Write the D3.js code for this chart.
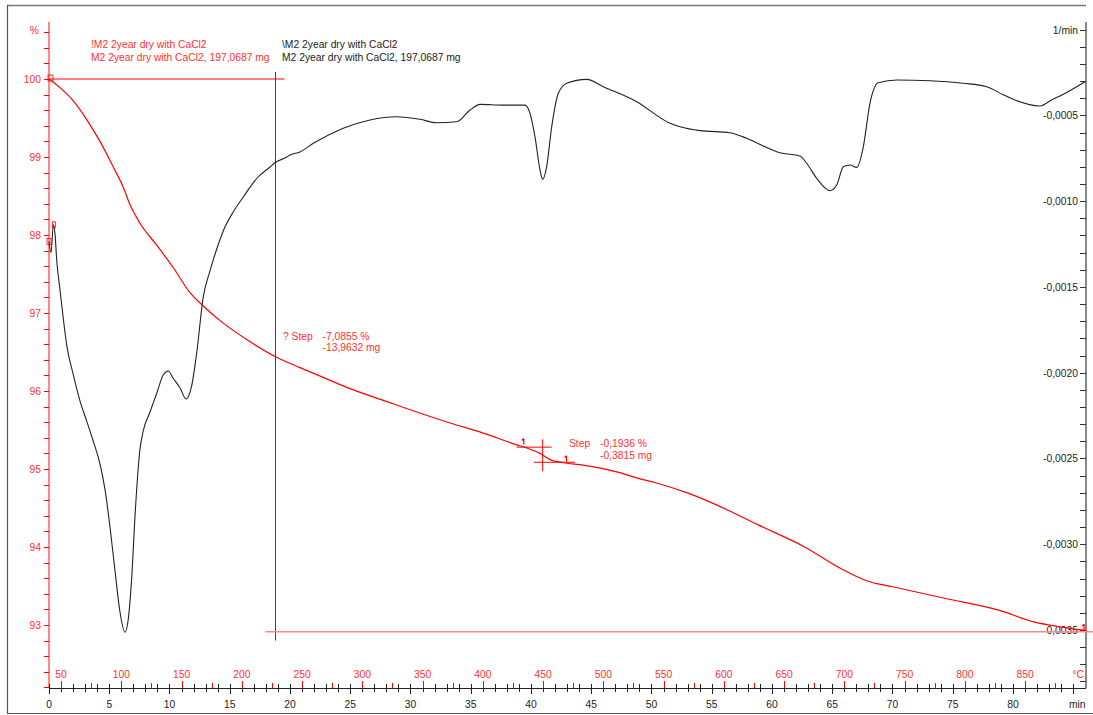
<!DOCTYPE html>
<html><head><meta charset="utf-8">
<script src="https://cdn.jsdelivr.net/npm/d3@7"></script>
<style>
html,body{margin:0;padding:0;background:#fff;}
svg{display:block;font-family:"Liberation Sans",Arial,sans-serif;}
</style></head>
<body><svg id="c" width="1093" height="715"></svg>
<script>
// ---- data ----
// TG curve: time (min) and mass (%)
const tgTime = [0,0.91,2.02,3.13,4.23,5.34,6.17,6.72,7.55,8.94,10.32,11.70,12.80,14.46,16.41,18.80,20.83,22.22,24.98,27.74,30.51,33.28,36.04,38.81,39.64,40.75,41.58,42.68,44.34,47.2,48.90,50.41,53.03,55.39,58.90,62.71,65.63,67.97,70.02,74.41,78.81,81.73,83.78,85.98];
const tgMass = [100.0,99.89,99.72,99.48,99.20,98.87,98.61,98.39,98.15,97.87,97.58,97.26,97.09,96.87,96.66,96.44,96.30,96.21,96.03,95.88,95.73,95.59,95.46,95.31,95.27,95.20,95.12,95.08,95.05,94.96,94.88,94.82,94.69,94.54,94.28,94.00,93.73,93.56,93.49,93.34,93.19,93.04,92.98,92.93];
// DTG curve: time (min) and rate (1/min)
const dtgTime = [0,0.17,0.36,0.50,0.64,0.91,1.19,1.47,2.02,2.57,3.13,3.68,4.23,4.65,5.06,5.48,5.89,6.31,6.58,6.86,7.14,7.55,7.83,8.38,8.94,9.49,9.90,10.32,10.87,11.37,11.84,12.26,12.80,13.36,13.92,14.61,15.29,16.12,17.24,18.34,18.78,19.73,20.0,20.83,21.93,24.42,26.64,28.86,30.79,32.17,33.83,34.94,35.77,37.70,39.50,39.92,40.33,40.75,40.97,41.30,41.72,42.27,42.96,44.62,46.0,48.77,51.54,52.37,54.02,56.51,57.90,59.28,60.66,62.32,62.88,63.71,64.81,65.37,65.92,66.47,67.03,67.58,68.13,68.82,70.35,73.11,75.88,77.82,79.2,80.02,82.24,83.2,83.90,85.98];
const dtgRate = [-0.001235,-0.00130,-0.001138,-0.001192,-0.001343,-0.001516,-0.001687,-0.001839,-0.002012,-0.002164,-0.002282,-0.002401,-0.002531,-0.002682,-0.002898,-0.003156,-0.003395,-0.003513,-0.003436,-0.00320,-0.002833,-0.002445,-0.002337,-0.002229,-0.00212,-0.002012,-0.00199,-0.002034,-0.002088,-0.002153,-0.002077,-0.001883,-0.001559,-0.001407,-0.001279,-0.001149,-0.001063,-0.000976,-0.000868,-0.000801,-0.000775,-0.000743,-0.000731,-0.000713,-0.000663,-0.000575,-0.000527,-0.000508,-0.000523,-0.000543,-0.000537,-0.000469,-0.000436,-0.00044,-0.00044,-0.000488,-0.000624,-0.000819,-0.000873,-0.000799,-0.000566,-0.000371,-0.000313,-0.00029,-0.000333,-0.00042,-0.000546,-0.000566,-0.000589,-0.000601,-0.000634,-0.000679,-0.000718,-0.000737,-0.000779,-0.000867,-0.000939,-0.000906,-0.000799,-0.000789,-0.000803,-0.000683,-0.00043,-0.00031,-0.000294,-0.000298,-0.000313,-0.000333,-0.000380,-0.000406,-0.000445,-0.000410,-0.000387,-0.000304];
// axis tick labels
const timeLabels = [0,5,10,15,20,25,30,35,40,45,50,55,60,65,70,75,80];
const tempLabels = [50,100,150,200,250,300,350,400,450,500,550,600,650,700,750,800,850];
const massLabels = [93,94,95,96,97,98,99,100];
const rateLabels = [-0.0005,-0.0010,-0.0015,-0.0020,-0.0025,-0.0030,-0.0035];
// legend & annotation texts
const legendRed = ["!M2 2year dry with CaCl2","M2 2year dry with CaCl2, 197,0687 mg"];
const legendBlack = ["\\M2 2year dry with CaCl2","M2 2year dry with CaCl2, 197,0687 mg"];
const step1 = {t:18.76, from:100, to:92.9145, label:"? Step", pct:"-7,0855 %", mg:"-13,9632 mg"};
const step2 = {t:40.97, from:95.28, to:95.0864, t1:38.8, t2:43.65, label:"Step", pct:"-0,1936 %", mg:"-0,3815 mg"};

// ---- scales ----
const x = d3.scaleLinear().domain([0, 86.06]).range([49, 1086]);
const xT = d3.scaleLinear().domain([40, 40 + 860.6]).range([49, 1086]);
const yL = d3.scaleLinear().domain([92.192, 100.731]).range([688, 22]);
const yR = d3.scaleLinear().domain([-0.003838, 0.0000443]).range([688, 22]);

const svg = d3.select("#c");
const RED = "#ff0000", RED_L = "#ff8888", LBL_R = "#ff3030";
const FS = 10.3;

// frame
svg.append("line").attr("x1",7).attr("y1",5.5).attr("x2",1086).attr("y2",5.5).attr("stroke","#777").attr("stroke-width",1.5);
svg.append("line").attr("x1",7.5).attr("y1",5).attr("x2",7.5).attr("y2",713.5).attr("stroke","#555").attr("stroke-width",1.2);
svg.append("line").attr("x1",7).attr("y1",713.5).attr("x2",1093).attr("y2",713.5).attr("stroke","#555").attr("stroke-width",1.2);

// left % axis
svg.append("line").attr("x1",x(0)).attr("x2",x(0)).attr("y1",22).attr("y2",688).attr("stroke",RED_L).attr("stroke-width",2);
const massTicks = d3.range(0, 43).map(i => +(92.2 + i*0.2).toFixed(1));
svg.append("g").selectAll("line").data(massTicks).join("line")
  .attr("x1",x(0)-5).attr("x2",x(0)).attr("y1",d=>Math.round(yL(d))+0.5).attr("y2",d=>Math.round(yL(d))+0.5)
  .attr("stroke",RED).attr("stroke-width",1);
svg.append("g").selectAll("text").data(massLabels).join("text")
  .attr("x",x(0)-8).attr("y",d=>yL(d)+4).attr("text-anchor","end").attr("font-size",FS).attr("fill",LBL_R).text(d=>d);
svg.append("text").attr("x",x(0)-10).attr("y",yL(100.6)+2).attr("text-anchor","end").attr("font-size",FS).attr("fill",LBL_R).text("%");

// right axis
svg.append("line").attr("x1",1086).attr("x2",1086).attr("y1",22).attr("y2",688).attr("stroke","#888").attr("stroke-width",2);
const rateTicks = d3.range(0, 39).map(i => -i*0.0001);
svg.append("g").selectAll("line").data(rateTicks).join("line")
  .attr("x1",1080).attr("x2",1086).attr("y1",d=>Math.round(yR(d))+0.5).attr("y2",d=>Math.round(yR(d))+0.5)
  .attr("stroke","#333").attr("stroke-width",1);
svg.append("g").selectAll("text").data(rateLabels).join("text")
  .attr("x",1078).attr("y",d=>yR(d)+4).attr("text-anchor","end").attr("font-size",FS).attr("fill","#222")
  .text(d=>d.toFixed(4).replace(".",","));
svg.append("text").attr("x",1078).attr("y",yR(0)+4).attr("text-anchor","end").attr("font-size",FS).attr("fill","#222").text("1/min");

// bottom axis
const yA = 688.5;
svg.append("line").attr("x1",x(0)).attr("x2",1086).attr("y1",yA).attr("y2",yA).attr("stroke","#222").attr("stroke-width",1);
const minTicks = d3.range(0, 86);
svg.append("g").selectAll("line").data(minTicks).join("line")
  .attr("x1",d=>Math.round(x(d))+0.5).attr("x2",d=>Math.round(x(d))+0.5)
  .attr("y1",684).attr("y2",d=> d%5===0 ? 694 : 692).attr("stroke","#222").attr("stroke-width",1);
const tempTicks = d3.range(50, 900, 25);
svg.append("g").selectAll("line").data(tempTicks).join("line")
  .attr("x1",d=>Math.round(xT(d))+0.5).attr("x2",d=>Math.round(xT(d))+0.5)
  .attr("y1",d=> d%50===0 ? 681 : 683).attr("y2",yA).attr("stroke",RED).attr("stroke-width",1);
svg.append("g").selectAll("text").data(timeLabels).join("text")
  .attr("x",d=>x(d)).attr("y",708).attr("text-anchor","middle").attr("font-size",FS).attr("fill","#222").text(d=>d);
svg.append("text").attr("x",x(85)+4).attr("y",708).attr("text-anchor","middle").attr("font-size",FS).attr("fill","#222").text("min");
svg.append("g").selectAll("text").data(tempLabels).join("text")
  .attr("x",d=>xT(d)).attr("y",678).attr("text-anchor","middle").attr("font-size",FS).attr("fill",LBL_R).text(d=>d);
svg.append("text").attr("x",1084).attr("y",678).attr("text-anchor","end").attr("font-size",FS).attr("fill",LBL_R).text("°C");

// step 1 annotation lines
svg.append("line").attr("x1",x(0)).attr("x2",x(19.55)).attr("y1",yL(step1.from)).attr("y2",yL(step1.from)).attr("stroke",RED).attr("stroke-width",1);
svg.append("line").attr("x1",Math.round(x(step1.t))+0.5).attr("x2",Math.round(x(step1.t))+0.5).attr("y1",yL(100.09)).attr("y2",yL(92.8)).attr("stroke","#e00000").attr("stroke-width",1);
svg.append("line").attr("x1",x(17.95)).attr("x2",1093).attr("y1",yL(step1.to)).attr("y2",yL(step1.to)).attr("stroke",RED_L).attr("stroke-width",1.5);

// step 2 crosshairs
svg.append("line").attr("x1",x(step2.t1)).attr("x2",x(41.72)).attr("y1",yL(step2.from)).attr("y2",yL(step2.from)).attr("stroke",RED).attr("stroke-width",1);
svg.append("line").attr("x1",x(40.25)).attr("x2",x(step2.t2)).attr("y1",yL(step2.to)).attr("y2",yL(step2.to)).attr("stroke",RED).attr("stroke-width",1);
svg.append("line").attr("x1",x(step2.t)).attr("x2",x(step2.t)).attr("y1",yL(95.38)).attr("y2",yL(94.97)).attr("stroke",RED).attr("stroke-width",1);

// curves
const tg = tgTime.map((t,i)=>[t,tgMass[i]]);
const dtg = dtgTime.map((t,i)=>[t,dtgRate[i]]);
svg.append("path").datum(dtg).attr("fill","none").attr("stroke","#222").attr("stroke-width",1.1)
  .attr("d", d3.line().x(d=>x(d[0])).y(d=>yR(d[1])).curve(d3.curveMonotoneX));
svg.append("path").datum(tg).attr("fill","none").attr("stroke",RED).attr("stroke-width",1.2)
  .attr("d", d3.line().x(d=>x(d[0])).y(d=>yL(d[1])).curve(d3.curveMonotoneX));

// small markers
svg.append("rect").attr("x",x(dtg[0][0])-2).attr("y",yR(dtg[0][1])-3).attr("width",4).attr("height",6).attr("fill","none").attr("stroke",RED).attr("stroke-width",0.8);
svg.append("rect").attr("x",x(dtg[2][0])-1).attr("y",yR(dtg[2][1])-3).attr("width",3).attr("height",6).attr("fill","none").attr("stroke",RED).attr("stroke-width",0.8);
svg.append("rect").attr("x",x(0)-1).attr("y",yL(100)-4).attr("width",5).attr("height",6).attr("fill","none").attr("stroke",RED).attr("stroke-width",0.8);
[[39.4,95.34],[42.95,95.12],[85.9,92.96]].forEach(p=>{
  svg.append("path").attr("d",`M${x(p[0])},${yL(p[1])-4}L${x(p[0])},${yL(p[1])+2}M${x(p[0])},${yL(p[1])-4}L${x(p[0])-2},${yL(p[1])-2}`)
    .attr("stroke",RED).attr("stroke-width",1.2).attr("fill","none");
});

// legend
legendRed.forEach((s,i)=>svg.append("text").attr("x",91).attr("y",47.5+i*13.3).attr("font-size",FS).attr("fill",LBL_R).text(s));
legendBlack.forEach((s,i)=>svg.append("text").attr("x",282).attr("y",47.5+i*13.3).attr("font-size",FS).attr("fill","#222").text(s));

// annotation texts
svg.append("text").attr("x",283).attr("y",339.5).attr("font-size",FS).attr("fill",LBL_R).text(step1.label);
svg.append("text").attr("x",322.5).attr("y",339.5).attr("font-size",FS).attr("fill",LBL_R).text(step1.pct);
svg.append("text").attr("x",322.5).attr("y",351).attr("font-size",FS).attr("fill",LBL_R).text(step1.mg);
svg.append("text").attr("x",569).attr("y",447).attr("font-size",FS).attr("fill",LBL_R).text(step2.label);
svg.append("text").attr("x",600).attr("y",447).attr("font-size",FS).attr("fill",LBL_R).text(step2.pct);
svg.append("text").attr("x",600).attr("y",459).attr("font-size",FS).attr("fill",LBL_R).text(step2.mg);
</script></body></html>
